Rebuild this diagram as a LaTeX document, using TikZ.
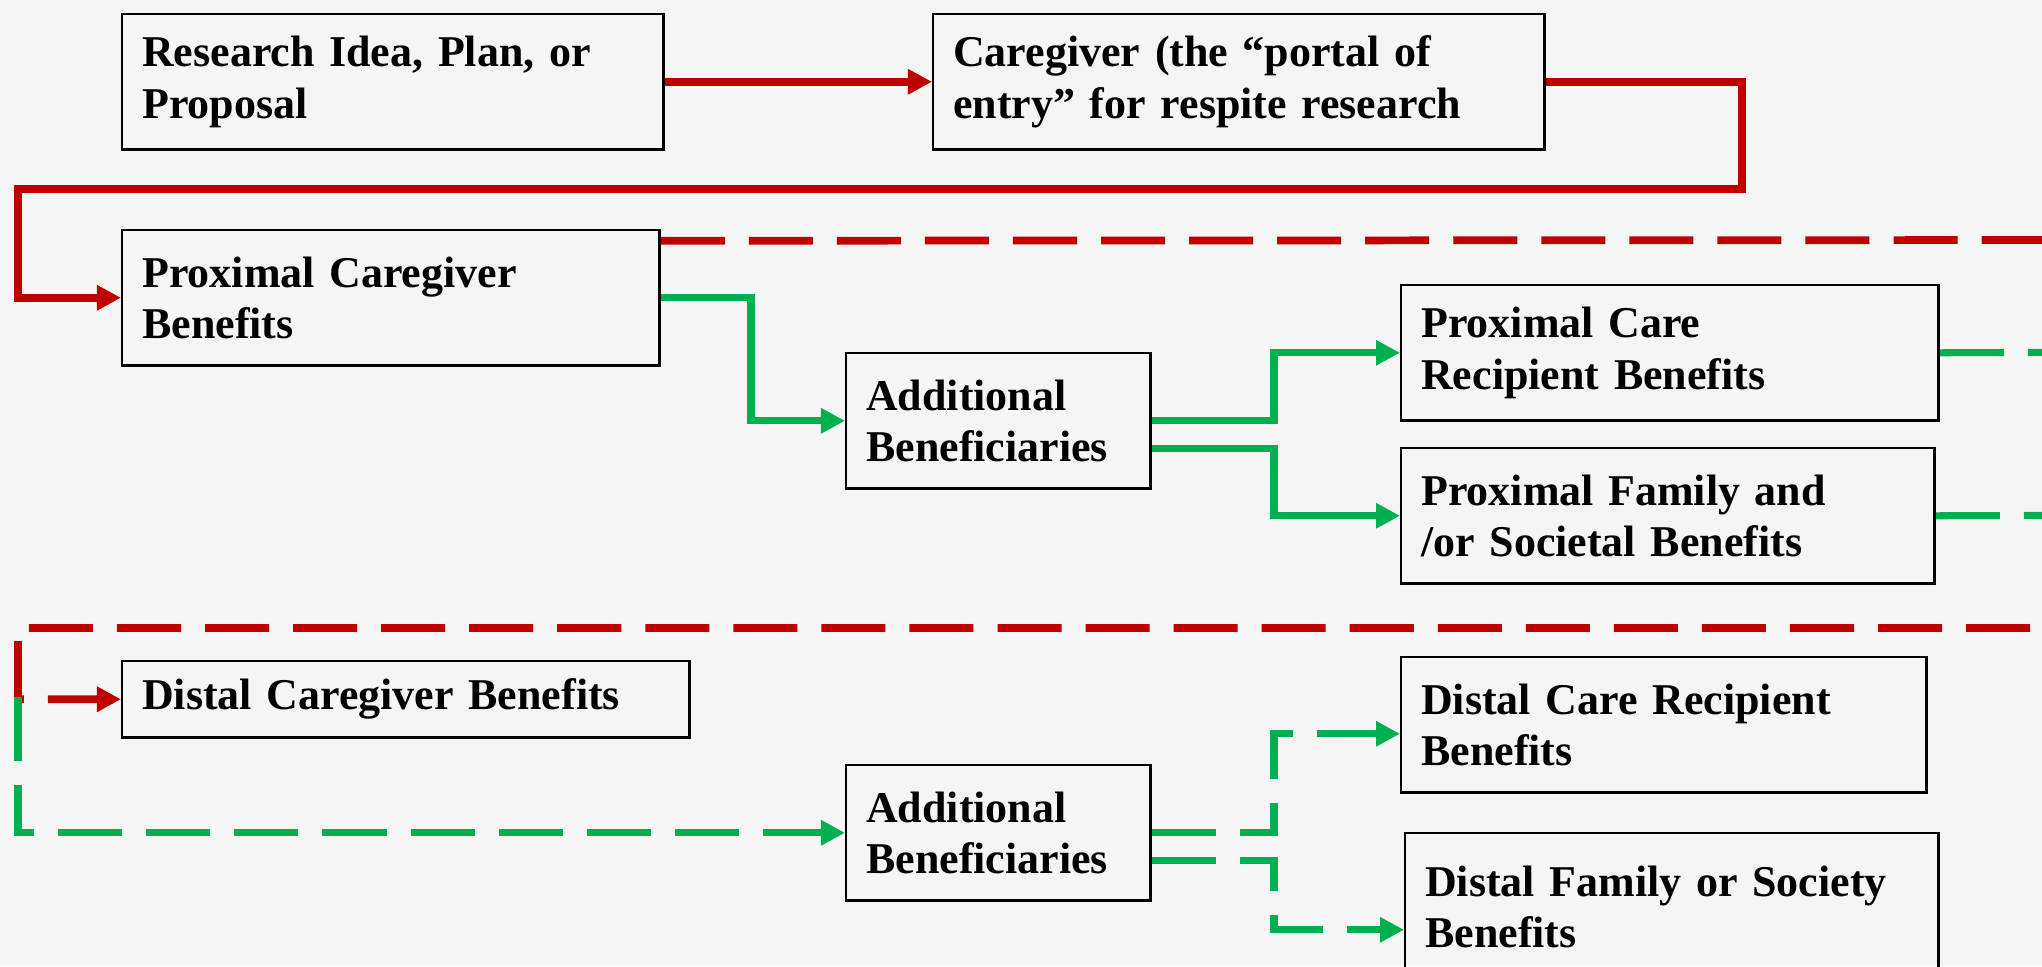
\documentclass[tikz,border=0pt]{standalone}
\usepackage{fontspec}
\setmainfont{Liberation Serif}
\usetikzlibrary{arrows.meta}
\definecolor{flowred}{RGB}{192,0,0}
\definecolor{flowgreen}{RGB}{0,176,80}
\definecolor{slidebg}{RGB}{245,245,245}
\begin{document}
\begin{tikzpicture}[
              x=0.01cm, y=-0.01cm,
              box/.style={draw=black, line width=0.7pt, anchor=north west, align=left,
                          inner xsep=0.2cm, inner ysep=0pt, minimum height=1.35cm,
                          font=\bfseries\fontsize{12.5pt}{14.6pt}\selectfont},
              tip/.style={-{Triangle[length=0.24cm,width=0.24cm]}},
              redflow/.style={flowred, line width=2.2pt},
              greenflow/.style={flowgreen, line width=2pt},
              longdash/.style={dash pattern=on 0.64cm off 0.24cm}
            ]
            % Background
            \fill[slidebg] (0,0) rectangle (2042,966);
            \clip (0,0) rectangle (2042,966);

            % Row: research idea and caregiver
            \node[box, text width=5.01cm] (idea) at (121,13) {Research Idea, Plan, or\\Proposal};
            \node[box, text width=5.71cm] (portal) at (932,13) {Caregiver (the “portal of\\entry” for respite research};

            % Proximal benefits
            \node[box, text width=4.97cm] (proxcg) at (121,229) {Proximal Caregiver\\Benefits};
            \node[box, text width=2.64cm] (addtop) at (845,352) {Additional\\Beneficiaries};
            \node[box, text width=4.97cm] (proxcr) at (1400,284) {Proximal Care\\Recipient Benefits};
            \node[box, text width=4.93cm] (proxfam) at (1400,447) {Proximal Family and\\/or Societal Benefits};

            % Distal benefits
            \node[box, text width=5.27cm, minimum height=0.76cm] (distcg) at (121,660) {Distal Caregiver Benefits};
            \node[box, text width=2.64cm] (addbot) at (845,764) {Additional\\Beneficiaries};
            \node[box, text width=4.85cm] (distcr) at (1400,656) {Distal Care Recipient\\Benefits};
            \node[box, text width=4.93cm, minimum height=1.48cm] (distfam) at (1404,832) {Distal Family or Society\\Benefits};

            % Turning points
            \coordinate (rturn) at (1742,189);
            \coordinate (lturn) at (18,189);
            \coordinate (offtop) at (2120,240);
            \coordinate (offbot) at (2120,628);
            \coordinate (lcorner) at (18,628);
            \coordinate (gstart) at (18,697);
            \coordinate (gbend) at (751,0);
            \coordinate (fork) at (1274,0);
            \coordinate (offcr) at (2120,352);
            \coordinate (offfam) at (2120,515);

            % Red path
            \draw[redflow, tip] (idea.east) -- (portal.west);
            \draw[redflow, tip] (portal.east) -| (rturn) -- (lturn) |- (proxcg.west);
            \draw[redflow, longdash, tip] ([yshift=0.57cm]proxcg.east) -- (offtop) -- (offbot)
                -- (lcorner) |- (distcg.west);

            % Green solid
            \draw[greenflow, tip] (proxcg.east) -| (gbend |- addtop.west) -- (addtop.west);
            \draw[greenflow, tip] (addtop.east) -| (fork |- proxcr.west) -- (proxcr.west);
            \draw[greenflow, tip] ([yshift=-0.28cm]addtop.east) -| (fork |- proxfam.west) -- (proxfam.west);

            % Green dashed
            \draw[greenflow, longdash] (proxcr.east) -- (offcr);
            \draw[greenflow, longdash] (proxfam.east) -- (offfam);
            \draw[greenflow, longdash, tip] (gstart) |- (addbot.west);
            \draw[greenflow, longdash, tip] (addbot.east) -| ([yshift=-0.09cm]fork |- distcr.west)
                -- ([yshift=-0.09cm]distcr.west);
            \draw[greenflow, longdash, tip] ([yshift=-0.28cm]addbot.east) -| ([yshift=-0.225cm]fork |- distfam.west)
                -- ([yshift=-0.225cm]distfam.west);
            \end{tikzpicture}
\end{document}
